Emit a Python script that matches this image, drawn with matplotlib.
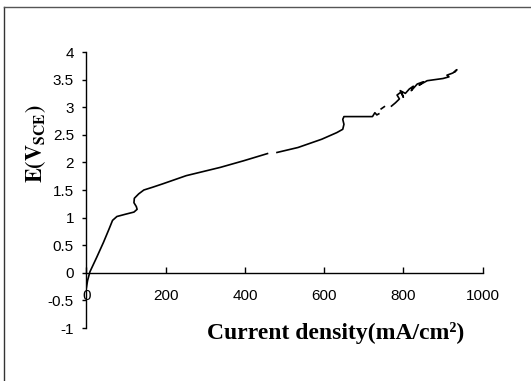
## Import Required Library
import numpy as np
import matplotlib
matplotlib.use("Agg")
import matplotlib.pyplot as plt
from matplotlib.lines import Line2D

# Current density values (mA/cm2), NaN marks a break in the trace
current = [0, 3, 9, 26, 43, 57, 66, 77, 98, 120, 128, 126, 120, 121, 132, 145,
           167, 192, 252, 338, 397, 457, np.nan,
           481, 534, 594, 632, 647, 650, 647, 650, 722, 728, 733, 738, np.nan,
           744, 752, np.nan,
           770, 780, 790, 784, 795, 800, 792, 805, 815, 825, 820, 835, 850,
           840, 860, 880, 900, 915, 910, 925, 935, 930]

# Potential values (V vs SCE)
potential = [-0.27, -0.14, 0.02, 0.28, 0.55, 0.79, 0.95, 1.02, 1.06, 1.10, 1.15,
             1.20, 1.27, 1.35, 1.43, 1.50,
             1.55, 1.61, 1.76, 1.91, 2.03, 2.16, np.nan,
             2.18, 2.27, 2.42, 2.54, 2.60, 2.69, 2.78, 2.83, 2.83, 2.90, 2.86, 2.88, np.nan,
             2.97, 3.01, np.nan,
             3.02, 3.08, 3.15, 3.22, 3.28, 3.18, 3.30, 3.25, 3.33, 3.38, 3.30, 3.42, 3.46,
             3.40, 3.48, 3.50, 3.52, 3.55, 3.58, 3.62, 3.68, 3.64]

# Tick values and labels
x_ticks = [0, 200, 400, 600, 800, 1000]
x_labels = ["0", "200", "400", "600", "800", "1000"]
y_ticks = [-1, -0.5, 0, 0.5, 1, 1.5, 2, 2.5, 3, 3.5, 4]
y_labels = ["-1", "-0.5", "0", "0.5", "1", "1.5", "2", "2.5", "3", "3.5", "4"]

plt.rcParams["font.family"] = ["Liberation Sans", "DejaVu Sans"]
plt.rcParams["mathtext.fontset"] = "stix"

# Create Figure
fig = plt.figure(figsize=(5.31, 3.81), dpi=100)
ax = fig.add_axes([0.1627, 0.1391, 0.7462, 0.7244])

# Draw the polarization curve
ax.plot(current, potential, color="black", linewidth=1.2)

# Axis limits
ax.set_xlim(0, 1000)
ax.set_ylim(-1, 4)

# Spines: left axis and x axis crossing at zero
ax.spines["top"].set_visible(False)
ax.spines["right"].set_visible(False)
ax.spines["bottom"].set_position(("data", 0))
ax.spines["left"].set_linewidth(1.0)
ax.spines["bottom"].set_linewidth(1.0)

# Ticks
ax.set_xticks(x_ticks)
ax.set_xticklabels(x_labels)
ax.set_yticks(y_ticks)
ax.set_yticklabels(y_labels)
ax.tick_params(axis="x", direction="in", length=4, width=1, pad=12, labelsize=11)
ax.tick_params(axis="y", direction="out", length=3, width=1, pad=6, labelsize=11)

# Axis titles
fig.text(336 / 531, 1 - 333 / 381, "Current density(mA/cm²)",
         family="Liberation Serif", weight="bold", fontsize=17,
         ha="center", va="center")
fig.text(35.6 / 531, 1 - 144 / 381, r"$\mathbf{E(V_{SCE})}$",
         fontsize=16, rotation=90, ha="center", va="center")

# Outer frame (left and top edge of the scanned box)
fig.add_artist(Line2D([4 / 531, 4 / 531], [0, 1 - 6.7 / 381],
                      transform=fig.transFigure, color="#333333", linewidth=1))
fig.add_artist(Line2D([4 / 531, 1], [1 - 6.7 / 381, 1 - 6.7 / 381],
                      transform=fig.transFigure, color="#555555", linewidth=1))

# Save Chart
fig.savefig("out.png", dpi=100)
